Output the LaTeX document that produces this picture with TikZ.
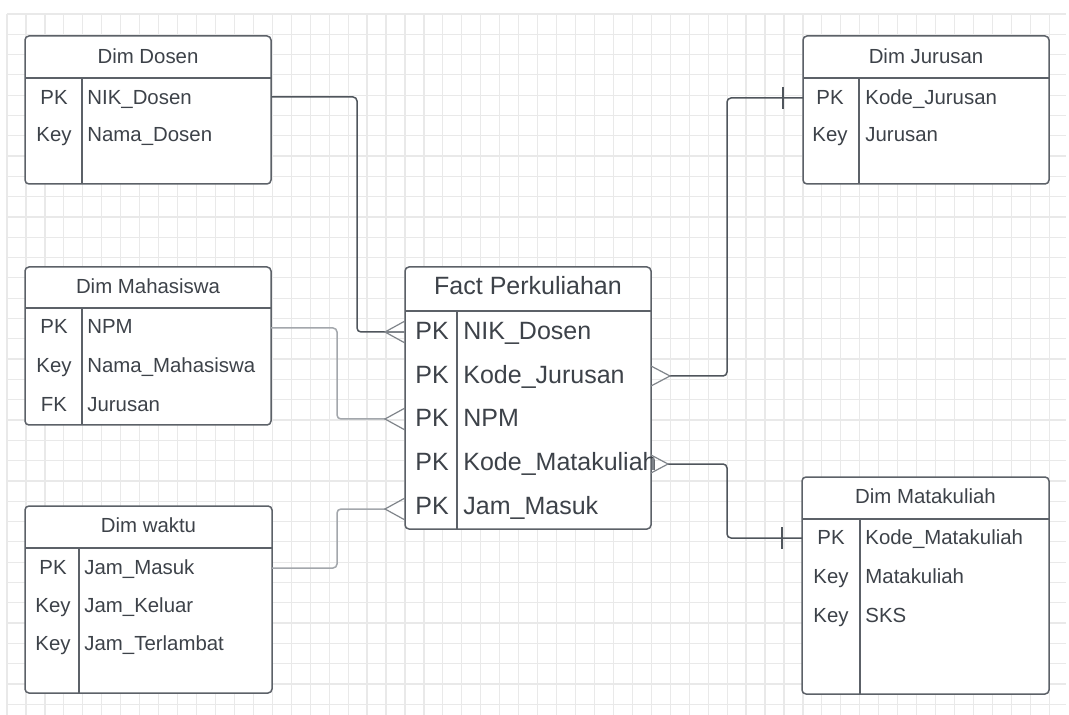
\documentclass[tikz,border=0pt]{standalone}
\usepackage{fontspec}
\setmainfont{Liberation Sans}
\usetikzlibrary{calc}
\definecolor{gridc}{HTML}{E9E9E9}
\definecolor{framec}{HTML}{5C6168}
\definecolor{txtc}{HTML}{3D4249}
\definecolor{linkd}{HTML}{4F555C}
\definecolor{linkl}{HTML}{A3A7AC}
\definecolor{footc}{HTML}{80858B}
\tikzset{
  gridline/.style={draw=gridc, line width=0.6pt},
  tbl/.style={draw=framec, fill=white, line width=0.75pt, rounded corners=2pt, inner sep=0pt},
  sep/.style={draw=framec, line width=0.75pt},
  small/.style={text=txtc, font=\fontsize{10.2}{12}\selectfont, inner sep=0pt, text height=8.3pt, text depth=1pt},
  big/.style={text=txtc, font=\fontsize{12.5}{15}\selectfont, inner sep=0pt, text height=10.2pt, text depth=1.25pt},
  ttl/.style={small, anchor=center},
  key/.style={small, anchor=center},
  fld/.style={small, anchor=west},
  bigttl/.style={big, anchor=center},
  bigkey/.style={big, anchor=center},
  bigfld/.style={big, anchor=west},
  linkdark/.style={draw=linkd, line width=0.75pt, rounded corners=2pt},
  linklight/.style={draw=linkl, line width=0.75pt, rounded corners=2pt},
  foot/.style={draw=footc, line width=0.6pt},
}
\begin{document}
\begin{tikzpicture}[x=0.5pt, y=-0.5pt]
\useasboundingbox (0,0) rectangle (1069,715);
\fill[white] (0,0) rectangle (1069,715);
% grid
\foreach \i in {0,...,55} \draw[gridline] ({7+18.95*\i},14) -- ({7+18.95*\i},715);
\foreach \j in {0,...,34} \draw[gridline] (7,{14+20.3*\j}) -- (1066,{14+20.3*\j});

% ---------- Dim Dosen ----------
\node[tbl, minimum width=123pt, minimum height=74pt] (dosen) at (148,110) {};
\draw[sep] (25,78) -- (271,78);
\draw[sep] (82,78) -- (82,184);
\node[ttl] (dosenT) at (148,56) {Dim Dosen};
\node[key] (dosenK1) at (54,97) {PK};
\node[fld] (dosenF1) at (87,97) {NIK\_Dosen};
\node[key] (dosenK2) at (54,134) {Key};
\node[fld] (dosenF2) at (87,134) {Nama\_Dosen};

% ---------- Dim Mahasiswa ----------
\node[tbl, minimum width=123pt, minimum height=79pt] (mhs) at (148,346) {};
\draw[sep] (25,308) -- (271,308);
\draw[sep] (82,308) -- (82,425);
\node[ttl] (mhsT) at (148,286) {Dim Mahasiswa};
\node[key] (mhsK1) at (54,326) {PK};
\node[fld] (mhsF1) at (87,326) {NPM};
\node[key] (mhsK2) at (54,365) {Key};
\node[fld] (mhsF2) at (87,365) {Nama\_Mahasiswa};
\node[key] (mhsK3) at (54,404) {FK};
\node[fld] (mhsF3) at (87,404) {Jurusan};

% ---------- Dim waktu ----------
\node[tbl, minimum width=123.5pt, minimum height=93.5pt] (wkt) at (148.5,599.5) {};
\draw[sep] (25,548) -- (272,548);
\draw[sep] (79,548) -- (79,693);
\node[ttl] (wktT) at (148.5,525) {Dim waktu};
\node[key] (wktK1) at (53,567) {PK};
\node[fld] (wktF1) at (84,567) {Jam\_Masuk};
\node[key] (wktK2) at (53,605) {Key};
\node[fld] (wktF2) at (84,605) {Jam\_Keluar};
\node[key] (wktK3) at (53,643) {Key};
\node[fld] (wktF3) at (84,643) {Jam\_Terlambat};

% ---------- Fact Perkuliahan ----------
\node[tbl, minimum width=123pt, minimum height=131pt] (fact) at (528,398) {};
\draw[sep] (405,311) -- (651,311);
\draw[sep] (457,311) -- (457,529);
\node[bigttl] (factT) at (528,286) {Fact Perkuliahan};
\node[bigkey] (factK1) at (432,331) {PK};
\node[bigfld] (factF1) at (463,331) {NIK\_Dosen};
\node[bigkey] (factK2) at (432,375) {PK};
\node[bigfld] (factF2) at (463,375) {Kode\_Jurusan};
\node[bigkey] (factK3) at (432,418) {PK};
\node[bigfld] (factF3) at (463,418) {NPM};
\node[bigkey] (factK4) at (432,462) {PK};
\node[bigfld] (factF4) at (463,462) {Kode\_Matakuliah};
\node[bigkey] (factK5) at (432,506) {PK};
\node[bigfld] (factF5) at (463,506) {Jam\_Masuk};

% ---------- Dim Jurusan ----------
\node[tbl, minimum width=123pt, minimum height=74pt] (jur) at (926,110) {};
\draw[sep] (803,78) -- (1049,78);
\draw[sep] (859,78) -- (859,184);
\node[ttl] (jurT) at (926,56) {Dim Jurusan};
\node[key] (jurK1) at (830,97) {PK};
\node[fld] (jurF1) at (865,97) {Kode\_Jurusan};
\node[key] (jurK2) at (830,134) {Key};
\node[fld] (jurF2) at (865,134) {Jurusan};

% ---------- Dim Matakuliah ----------
\node[tbl, minimum width=123.5pt, minimum height=108.5pt] (mk) at (925.5,585.5) {};
\draw[sep] (802,519) -- (1049,519);
\draw[sep] (860,519) -- (860,694);
\node[ttl] (mkT) at (925.5,496) {Dim Matakuliah};
\node[key] (mkK1) at (831,537) {PK};
\node[fld] (mkF1) at (865,537) {Kode\_Matakuliah};
\node[key] (mkK2) at (831,576) {Key};
\node[fld] (mkF2) at (865,576) {Matakuliah};
\node[key] (mkK3) at (831,615) {Key};
\node[fld] (mkF3) at (865,615) {SKS};

% ---------- connector end points ----------
\coordinate (pDosen) at (dosen.east |- dosenF1);
\coordinate (pMhs)   at (271,328);
\coordinate (pWkt)   at (272,568);
\coordinate (eNIK)   at (405,332);
\coordinate (eNPM)   at (405,419);
\coordinate (eJam)   at (405,509);
\coordinate (eJur)   at (651,376);
\coordinate (eMk)    at (651,464);
\coordinate (pJur)   at (803,98);
\coordinate (pMk)    at (802,538);
\coordinate (xL1) at (357,0);
\coordinate (xL2) at (337,0);
\coordinate (xR)  at (727,0);

% connectors
\draw[linkdark]  (pDosen) -| (xL1 |- eNIK) -- ($(eNIK)+(-20,0)$);
\draw[linklight] (pMhs) -| (xL2 |- eNPM) -- ($(eNPM)+(-20,0)$);
\draw[linklight] (pWkt) -| (xL2 |- eJam) -- ($(eJam)+(-20,0)$);
\draw[linkdark]  ($(eJur)+(19,0)$) -| (xR |- pJur) -- (pJur);
\draw[linkdark]  ($(eMk)+(17,0)$) -| (xR |- pMk) -- (pMk);

% crow's feet (many side)
\draw[foot] ($(eNIK)+(0,-11)$) -- ($(eNIK)+(-20,0)$) -- ($(eNIK)+(0,11)$);
\draw[foot] ($(eNIK)+(-20,0)$) -- (eNIK);
\draw[foot] ($(eNPM)+(0,-11)$) -- ($(eNPM)+(-20,0)$) -- ($(eNPM)+(0,11)$);
\draw[foot] ($(eJam)+(0,-11)$) -- ($(eJam)+(-20,0)$) -- ($(eJam)+(0,11)$);
\draw[foot] ($(eJur)+(0,-10)$) -- ($(eJur)+(19,0)$) -- ($(eJur)+(0,10)$);
\draw[foot] ($(eMk)+(0,-9)$) -- ($(eMk)+(17,0)$) -- ($(eMk)+(0,9)$);
\draw[foot] ($(eMk)+(2,-6)$) -- ($(eMk)+(2,6)$);

% one-side bars
\draw[linkdark] ($(pJur)+(-20,-11)$) -- ($(pJur)+(-20,11)$);
\draw[linkdark] ($(pMk)+(-20,-11)$) -- ($(pMk)+(-20,11)$);
\end{tikzpicture}
\end{document}
